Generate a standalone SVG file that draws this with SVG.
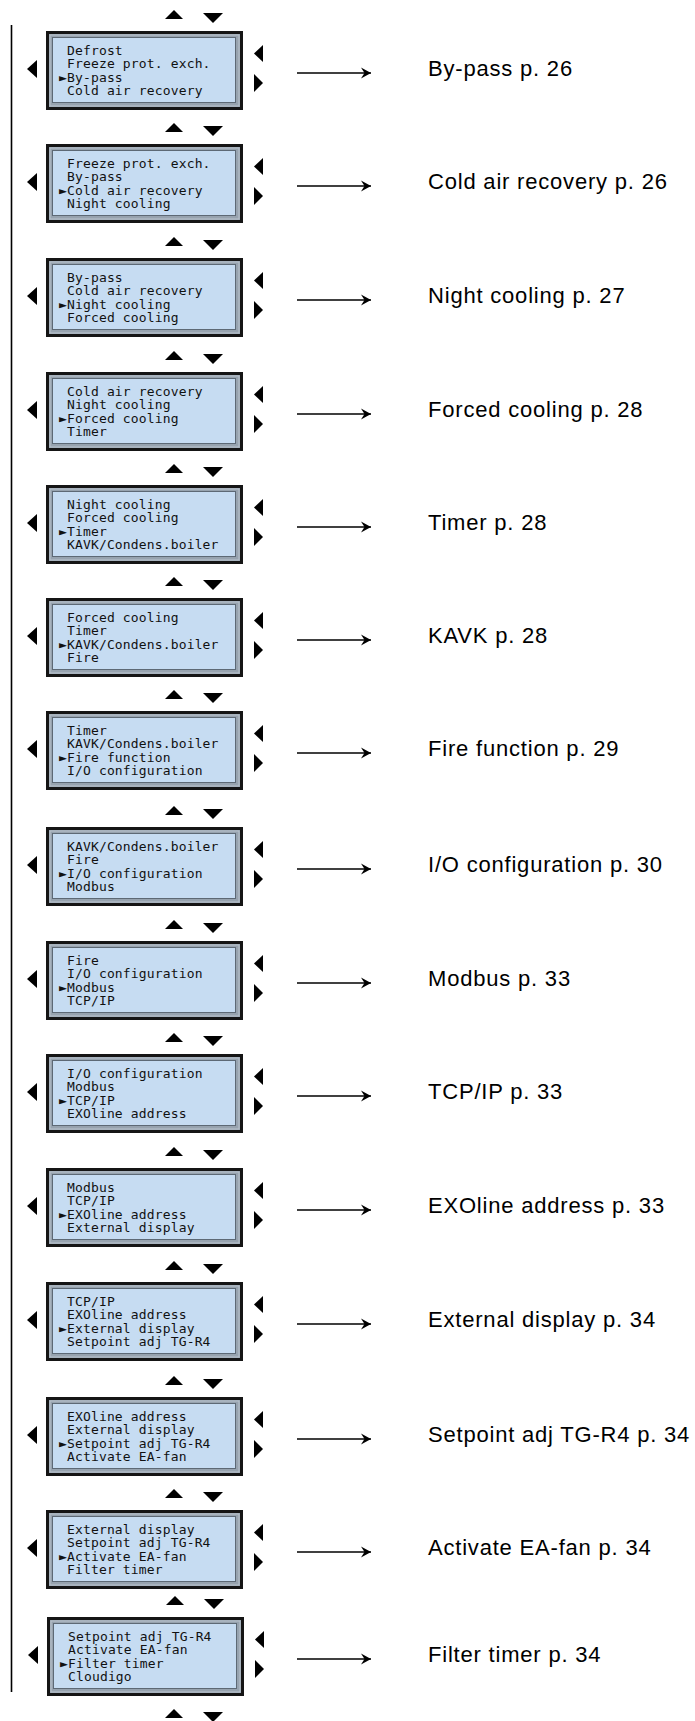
<svg xmlns="http://www.w3.org/2000/svg" xmlns:xlink="http://www.w3.org/1999/xlink" width="695" height="1721" viewBox="0 0 695 1721">
<style>
.t{font-family:"DejaVu Sans Mono","Liberation Mono",monospace;font-size:13px;letter-spacing:0.15px;fill:#111}
.l{font-family:"Liberation Sans",Arial,sans-serif;font-size:22px;letter-spacing:0.8px;fill:#000}
.tri{fill:#000}
.conn{stroke:#000;stroke-width:1.6;fill:none}
</style>
<defs>
<marker id="ah" markerUnits="userSpaceOnUse" markerWidth="12" markerHeight="12" refX="11" refY="6" orient="auto">
<path d="M1,0.5 L11,6 L1,11.5 L4.5,6 Z" fill="#000"/>
</marker>
<g id="frame">
<rect x="47.5" y="0.5" width="194" height="76" fill="#97a3af" stroke="#151515" stroke-width="3"/>
<rect x="50" y="3" width="189" height="71" fill="none" stroke="#b9c3cd" stroke-width="1"/>
<rect x="52.5" y="5.5" width="183" height="65" fill="#c6dcf2" stroke="#5d6975" stroke-width="1"/>
<polygon class="tri" points="27,37 37,28 37,46"/>
<polygon class="tri" points="254,21.5 263,13 263,30"/>
<polygon class="tri" points="263,51 254,42 254,60"/>
</g>
<g id="ud">
<polygon class="tri" points="165,-13 174,-22 183,-13"/>
<polygon class="tri" points="203,-19 223,-19 213,-9"/>
</g>
</defs>

<g id="connectors">
<line class="conn" x1="11.5" y1="25" x2="11.5" y2="1692"/>
<line class="conn" x1="297" y1="73" x2="371" y2="73" marker-end="url(#ah)"/>
<line class="conn" x1="297" y1="186" x2="371" y2="186" marker-end="url(#ah)"/>
<line class="conn" x1="297" y1="300" x2="371" y2="300" marker-end="url(#ah)"/>
<line class="conn" x1="297" y1="414" x2="371" y2="414" marker-end="url(#ah)"/>
<line class="conn" x1="297" y1="527" x2="371" y2="527" marker-end="url(#ah)"/>
<line class="conn" x1="297" y1="640" x2="371" y2="640" marker-end="url(#ah)"/>
<line class="conn" x1="297" y1="753" x2="371" y2="753" marker-end="url(#ah)"/>
<line class="conn" x1="297" y1="869" x2="371" y2="869" marker-end="url(#ah)"/>
<line class="conn" x1="297" y1="983" x2="371" y2="983" marker-end="url(#ah)"/>
<line class="conn" x1="297" y1="1096" x2="371" y2="1096" marker-end="url(#ah)"/>
<line class="conn" x1="297" y1="1210" x2="371" y2="1210" marker-end="url(#ah)"/>
<line class="conn" x1="297" y1="1324" x2="371" y2="1324" marker-end="url(#ah)"/>
<line class="conn" x1="297" y1="1439" x2="371" y2="1439" marker-end="url(#ah)"/>
<line class="conn" x1="297" y1="1552" x2="371" y2="1552" marker-end="url(#ah)"/>
<line class="conn" x1="297" y1="1659" x2="371" y2="1659" marker-end="url(#ah)"/>
</g>

<g id="panel1" transform="translate(0,32)">
<use xlink:href="#ud"/><use xlink:href="#frame"/>
<text class="t" x="67" y="23">Defrost</text>
<text class="t" x="67" y="36.3">Freeze prot. exch.</text>
<text class="t" y="49.6"><tspan x="59">►</tspan><tspan x="67">By-pass</tspan></text>
<text class="t" x="67" y="62.9">Cold air recovery</text>
<text class="l" x="428" y="44">By-pass p. 26</text>
</g>

<g id="panel2" transform="translate(0,145)">
<use xlink:href="#ud"/><use xlink:href="#frame"/>
<text class="t" x="67" y="23">Freeze prot. exch.</text>
<text class="t" x="67" y="36.3">By-pass</text>
<text class="t" y="49.6"><tspan x="59">►</tspan><tspan x="67">Cold air recovery</tspan></text>
<text class="t" x="67" y="62.9">Night cooling</text>
<text class="l" x="428" y="44">Cold air recovery p. 26</text>
</g>

<g id="panel3" transform="translate(0,259)">
<use xlink:href="#ud"/><use xlink:href="#frame"/>
<text class="t" x="67" y="23">By-pass</text>
<text class="t" x="67" y="36.3">Cold air recovery</text>
<text class="t" y="49.6"><tspan x="59">►</tspan><tspan x="67">Night cooling</tspan></text>
<text class="t" x="67" y="62.9">Forced cooling</text>
<text class="l" x="428" y="44">Night cooling p. 27</text>
</g>

<g id="panel4" transform="translate(0,373)">
<use xlink:href="#ud"/><use xlink:href="#frame"/>
<text class="t" x="67" y="23">Cold air recovery</text>
<text class="t" x="67" y="36.3">Night cooling</text>
<text class="t" y="49.6"><tspan x="59">►</tspan><tspan x="67">Forced cooling</tspan></text>
<text class="t" x="67" y="62.9">Timer</text>
<text class="l" x="428" y="44">Forced cooling p. 28</text>
</g>

<g id="panel5" transform="translate(0,486)">
<use xlink:href="#ud"/><use xlink:href="#frame"/>
<text class="t" x="67" y="23">Night cooling</text>
<text class="t" x="67" y="36.3">Forced cooling</text>
<text class="t" y="49.6"><tspan x="59">►</tspan><tspan x="67">Timer</tspan></text>
<text class="t" x="67" y="62.9">KAVK/Condens.boiler</text>
<text class="l" x="428" y="44">Timer p. 28</text>
</g>

<g id="panel6" transform="translate(0,599)">
<use xlink:href="#ud"/><use xlink:href="#frame"/>
<text class="t" x="67" y="23">Forced cooling</text>
<text class="t" x="67" y="36.3">Timer</text>
<text class="t" y="49.6"><tspan x="59">►</tspan><tspan x="67">KAVK/Condens.boiler</tspan></text>
<text class="t" x="67" y="62.9">Fire</text>
<text class="l" x="428" y="44">KAVK p. 28</text>
</g>

<g id="panel7" transform="translate(0,712)">
<use xlink:href="#ud"/><use xlink:href="#frame"/>
<text class="t" x="67" y="23">Timer</text>
<text class="t" x="67" y="36.3">KAVK/Condens.boiler</text>
<text class="t" y="49.6"><tspan x="59">►</tspan><tspan x="67">Fire function</tspan></text>
<text class="t" x="67" y="62.9">I/O configuration</text>
<text class="l" x="428" y="44">Fire function p. 29</text>
</g>

<g id="panel8" transform="translate(0,828)">
<use xlink:href="#ud"/><use xlink:href="#frame"/>
<text class="t" x="67" y="23">KAVK/Condens.boiler</text>
<text class="t" x="67" y="36.3">Fire</text>
<text class="t" y="49.6"><tspan x="59">►</tspan><tspan x="67">I/O configuration</tspan></text>
<text class="t" x="67" y="62.9">Modbus</text>
<text class="l" x="428" y="44">I/O configuration p. 30</text>
</g>

<g id="panel9" transform="translate(0,942)">
<use xlink:href="#ud"/><use xlink:href="#frame"/>
<text class="t" x="67" y="23">Fire</text>
<text class="t" x="67" y="36.3">I/O configuration</text>
<text class="t" y="49.6"><tspan x="59">►</tspan><tspan x="67">Modbus</tspan></text>
<text class="t" x="67" y="62.9">TCP/IP</text>
<text class="l" x="428" y="44">Modbus p. 33</text>
</g>

<g id="panel10" transform="translate(0,1055)">
<use xlink:href="#ud"/><use xlink:href="#frame"/>
<text class="t" x="67" y="23">I/O configuration</text>
<text class="t" x="67" y="36.3">Modbus</text>
<text class="t" y="49.6"><tspan x="59">►</tspan><tspan x="67">TCP/IP</tspan></text>
<text class="t" x="67" y="62.9">EXOline address</text>
<text class="l" x="428" y="44">TCP/IP p. 33</text>
</g>

<g id="panel11" transform="translate(0,1169)">
<use xlink:href="#ud"/><use xlink:href="#frame"/>
<text class="t" x="67" y="23">Modbus</text>
<text class="t" x="67" y="36.3">TCP/IP</text>
<text class="t" y="49.6"><tspan x="59">►</tspan><tspan x="67">EXOline address</tspan></text>
<text class="t" x="67" y="62.9">External display</text>
<text class="l" x="428" y="44">EXOline address p. 33</text>
</g>

<g id="panel12" transform="translate(0,1283)">
<use xlink:href="#ud"/><use xlink:href="#frame"/>
<text class="t" x="67" y="23">TCP/IP</text>
<text class="t" x="67" y="36.3">EXOline address</text>
<text class="t" y="49.6"><tspan x="59">►</tspan><tspan x="67">External display</tspan></text>
<text class="t" x="67" y="62.9">Setpoint adj TG-R4</text>
<text class="l" x="428" y="44">External display p. 34</text>
</g>

<g id="panel13" transform="translate(0,1398)">
<use xlink:href="#ud"/><use xlink:href="#frame"/>
<text class="t" x="67" y="23">EXOline address</text>
<text class="t" x="67" y="36.3">External display</text>
<text class="t" y="49.6"><tspan x="59">►</tspan><tspan x="67">Setpoint adj TG-R4</tspan></text>
<text class="t" x="67" y="62.9">Activate EA-fan</text>
<text class="l" x="428" y="44">Setpoint adj TG-R4 p. 34</text>
</g>

<g id="panel14" transform="translate(0,1511)">
<use xlink:href="#ud"/><use xlink:href="#frame"/>
<text class="t" x="67" y="23">External display</text>
<text class="t" x="67" y="36.3">Setpoint adj TG-R4</text>
<text class="t" y="49.6"><tspan x="59">►</tspan><tspan x="67">Activate EA-fan</tspan></text>
<text class="t" x="67" y="62.9">Filter timer</text>
<text class="l" x="428" y="44">Activate EA-fan p. 34</text>
</g>

<g id="panel15" transform="translate(1,1618)">
<use xlink:href="#ud"/><use xlink:href="#frame"/>
<text class="t" x="67" y="23">Setpoint adj TG-R4</text>
<text class="t" x="67" y="36.3">Activate EA-fan</text>
<text class="t" y="49.6"><tspan x="59">►</tspan><tspan x="67">Filter timer</tspan></text>
<text class="t" x="67" y="62.9">Cloudigo</text>
<text class="l" x="427" y="44">Filter timer p. 34</text>
</g>

<g id="nav-end" transform="translate(0,1731)">
<use xlink:href="#ud"/>
</g>
</svg>
